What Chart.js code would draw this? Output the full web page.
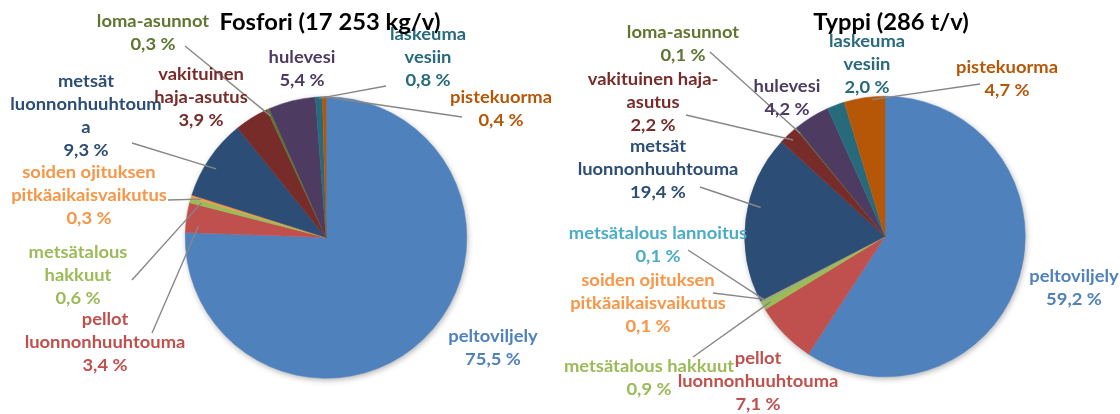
<!DOCTYPE html>
<html>
<head>
<meta charset="utf-8">
<script src="https://cdn.jsdelivr.net/npm/chart.js@4"></script>
<style>
  html, body { margin: 0; padding: 0; background: #fff; overflow: hidden; }
  .box { position: absolute; top: 0; width: 560px; height: 414px; }
</style>
</head>
<body>
<div class="box" style="left:0"><canvas id="fosfori"></canvas></div>
<div class="box" style="left:560px"><canvas id="typpi"></canvas></div>
<script>
// ------------------- data -------------------
const fosforiTitle = 'Fosfori (17 253 kg/v)';
const fosforiCategories = ['peltoviljely', 'pellot luonnonhuuhtouma', 'metsätalous hakkuut',
  'soiden ojituksen pitkäaikaisvaikutus', 'metsät luonnonhuuhtouma', 'vakituinen haja-asutus',
  'loma-asunnot', 'hulevesi', 'laskeuma vesiin', 'pistekuorma'];
// rivitys kuten kuvassa
const fosforiLabelLines = [
  ['peltoviljely'],
  ['pellot', 'luonnonhuuhtouma'],
  ['metsätalous', 'hakkuut'],
  ['soiden ojituksen', 'pitkäaikaisvaikutus'],
  ['metsät', 'luonnonhuuhtoum', 'a'],
  ['vakituinen', 'haja-asutus'],
  ['loma-asunnot'],
  ['hulevesi'],
  ['laskeuma', 'vesiin'],
  ['pistekuorma']
];
const fosforiValues = [75.5, 3.4, 0.6, 0.3, 9.3, 3.9, 0.3, 5.4, 0.8, 0.4];

const typpiTitle = 'Typpi (286 t/v)';
const typpiCategories = ['peltoviljely', 'pellot luonnonhuuhtouma', 'metsätalous hakkuut',
  'metsätalous lannoitus', 'soiden ojituksen pitkäaikaisvaikutus', 'metsät luonnonhuuhtouma',
  'vakituinen haja-asutus', 'loma-asunnot', 'hulevesi', 'laskeuma vesiin', 'pistekuorma'];
const typpiLabelLines = [
  ['peltoviljely'],
  ['pellot', 'luonnonhuuhtouma'],
  ['metsätalous hakkuut'],
  ['metsätalous lannoitus'],
  ['soiden ojituksen', 'pitkäaikaisvaikutus'],
  ['metsät', 'luonnonhuuhtouma'],
  ['vakituinen haja-', 'asutus'],
  ['loma-asunnot'],
  ['hulevesi'],
  ['laskeuma', 'vesiin'],
  ['pistekuorma']
];
const typpiValues = [59.2, 7.1, 0.9, 0.1, 0.1, 19.4, 2.2, 0.1, 4.2, 2.0, 4.7];

// värit kategorian mukaan (Excel 2010 -teema)
const colorMap = {
  'peltoviljely': '#4F81BD',
  'pellot luonnonhuuhtouma': '#C0504D',
  'metsätalous hakkuut': '#9BBB59',
  'metsätalous lannoitus': '#4BACC6',
  'soiden ojituksen pitkäaikaisvaikutus': '#F79646',
  'metsät luonnonhuuhtouma': '#2C4D75',
  'vakituinen haja-asutus': '#772C2A',
  'loma-asunnot': '#5F7530',
  'hulevesi': '#4D3B62',
  'laskeuma vesiin': '#276A7C',
  'pistekuorma': '#B65708'
};

// ------------------- asettelu -------------------
const LINE = 23;
const LABEL_FONT = 'bold 17px Lato, "Open Sans", sans-serif';
const LABEL_SX = 1.08;   // Calibri-tyyppinen leveys
const TITLE_FONT = 'bold 22px Lato, "Open Sans", sans-serif';
const TITLE_SX = 1.08;

// tekstin keskikohta (ensimmäinen rivi), johtoviivan alku ja kohta siivussa (t = osuus kulmasta, r = osuus säteestä)
const fosforiLayout = [
  { x: 493, y: 337 },
  { x: 105, y: 320, from: [152, 333], t: 0.25, r: 0.91 },
  { x: 78, y: 253, from: [132, 280], r: 0.92 },
  { x: 89, y: 173, from: [168, 200], r: 0.93 },
  { x: 86, y: 82, from: [132, 143], t: 0.43, r: 0.92 },
  { x: 201, y: 75 },
  { x: 153, y: 22, from: [185, 46], t: 0.3 },
  { x: 302, y: 58 },
  { x: 428, y: 35, from: [386, 86], r: 0.99 },
  { x: 501, y: 98, from: [462, 117], r: 1 }
];
const typpiLayout = [
  { x: 514, y: 277 },
  { x: 198, y: 359 },
  { x: 89, y: 367, from: [133, 357], r: 0.94 },
  { x: 98, y: 234, from: [128, 250], r: 0.97 },
  { x: 88, y: 281, from: [153, 293], r: 0.97 },
  { x: 98, y: 147, from: [140, 187], t: 0.58, r: 0.91 },
  { x: 93, y: 80, from: [126, 115] },
  { x: 123, y: 33, from: [150, 52] },
  { x: 227, y: 87 },
  { x: 307, y: 42 },
  { x: 447, y: 68, from: [420, 84], t: 0.68, r: 0.98 }
];

const fmt = v => v.toFixed(1).replace('.', ',') + ' %';

function stretchedText(ctx, s, x, y, sx) {
  ctx.save();
  ctx.translate(x, y);
  ctx.scale(sx, 1);
  ctx.fillText(s, 0, 0);
  ctx.restore();
}

// ------------------- labels + leader lines -------------------
const leaderLabels = {
  id: 'leaderLabels',
  beforeDatasetsDraw(chart) {
    // pehmeä varjo piirakan alle
    const arc = chart.getDatasetMeta(0).data[0];
    const ctx = chart.ctx;
    ctx.save();
    ctx.shadowColor = 'rgba(0,0,0,0.35)';
    ctx.shadowBlur = 6;
    ctx.shadowOffsetX = 1;
    ctx.shadowOffsetY = 2;
    ctx.fillStyle = '#fff';
    ctx.beginPath();
    ctx.arc(arc.x, arc.y, arc.outerRadius - 0.5, 0, Math.PI * 2);
    ctx.fill();
    ctx.restore();
  },
  afterDatasetsDraw(chart, args, opts) {
    const ctx = chart.ctx;
    const ds = chart.data.datasets[0];
    const arcs = chart.getDatasetMeta(0).data;
    ctx.save();

    opts.layout.forEach((L, i) => {
      const arc = arcs[i];
      if (!L.from) return;
      const t = L.t ?? 0.5;
      const r = (L.r ?? 0.95) * arc.outerRadius;
      const a = arc.startAngle + (arc.endAngle - arc.startAngle) * t;
      ctx.beginPath();
      ctx.moveTo(L.from[0], L.from[1]);
      ctx.lineTo(arc.x + Math.cos(a) * r, arc.y + Math.sin(a) * r);
      ctx.strokeStyle = '#878787';
      ctx.lineWidth = 1.4;
      ctx.stroke();
    });

    ctx.font = LABEL_FONT;
    ctx.textAlign = 'center';
    ctx.textBaseline = 'middle';
    opts.layout.forEach((L, i) => {
      ctx.fillStyle = ds.backgroundColor[i];
      const lines = [...opts.lines[i], fmt(ds.data[i])];
      lines.forEach((s, k) => stretchedText(ctx, s, L.x, L.y + k * LINE, LABEL_SX));
    });

    ctx.font = TITLE_FONT;
    ctx.fillStyle = '#000';
    ctx.textBaseline = 'alphabetic';
    stretchedText(ctx, opts.title, opts.titleX, 30, TITLE_SX);
    ctx.restore();
  }
};

function createPie(id, title, categories, lines, values, layout, padding, titleX) {
  const ctx = document.getElementById(id).getContext('2d');
  const colors = categories.map(c => colorMap[c]);
  return new Chart(ctx, {
    type: 'pie',
    data: {
      labels: categories,
      datasets: [{
        data: values,
        backgroundColor: colors,
        borderColor: colors,
        borderWidth: 0.5
      }]
    },
    options: {
      responsive: true,
      maintainAspectRatio: false,
      animation: false,
      layout: { padding: padding },
      plugins: {
        legend: { display: false },
        tooltip: { enabled: false },
        leaderLabels: { layout: layout, lines: lines, title: title, titleX: titleX }
      }
    },
    plugins: [leaderLabels]
  });
}

createPie('fosfori', fosforiTitle, fosforiCategories, fosforiLabelLines, fosforiValues, fosforiLayout,
  { left: 185, right: 93, top: 96.5, bottom: 35.5 }, 330);
createPie('typpi', typpiTitle, typpiCategories, typpiLabelLines, typpiValues, typpiLayout,
  { left: 184.5, right: 94.5, top: 96, bottom: 37 }, 331);
</script>
</body>
</html>
